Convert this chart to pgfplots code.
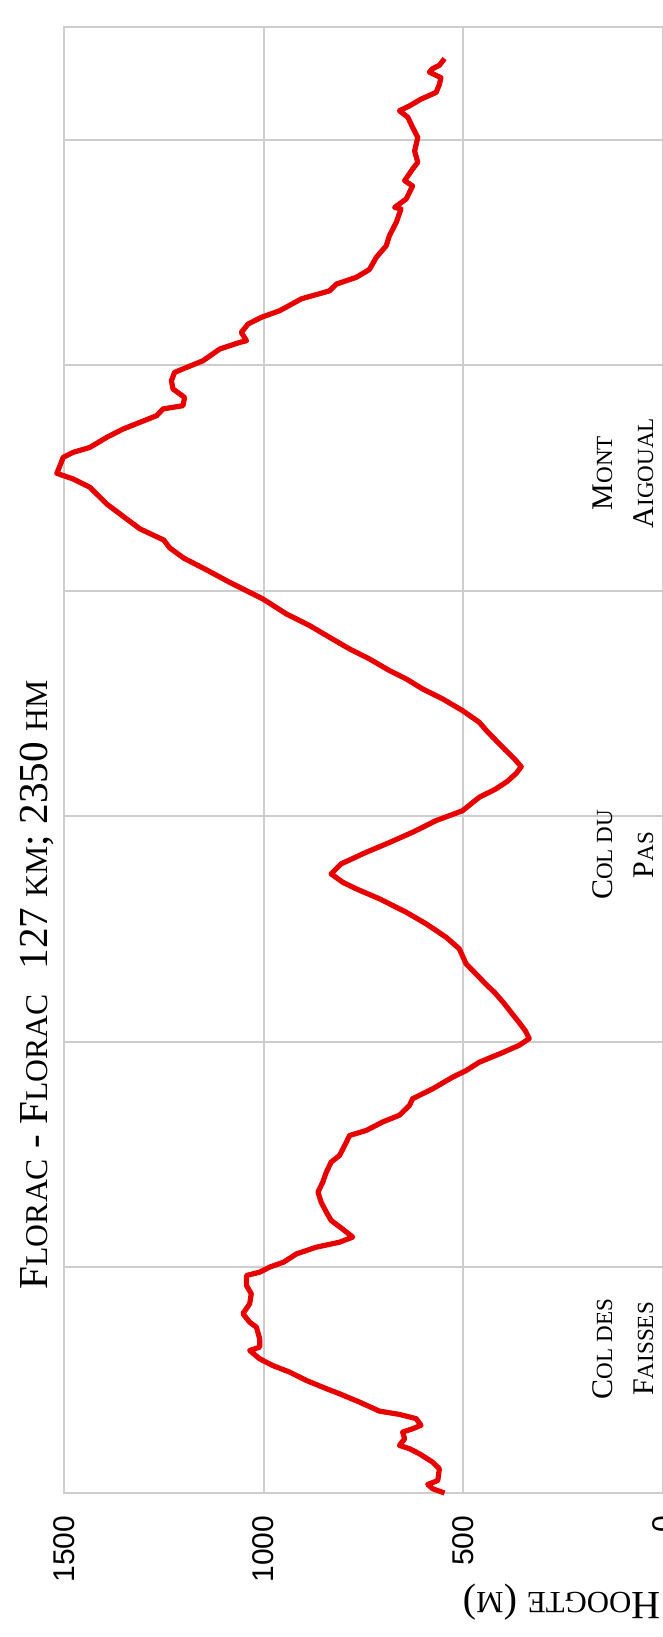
\documentclass[border=0pt]{standalone}
\usepackage{graphicx}
\usepackage{fontspec}
\setmainfont{Liberation Serif}
\newfontfamily\sansf{Liberation Sans}
\usepackage{pgfplots}
\pgfplotsset{compat=1.18}

\definecolor{gridgray}{RGB}{205,205,205}
\definecolor{profred}{RGB}{230,0,0}
% fake small caps
\newcommand\sm[1]{\scalebox{0.77}{#1}}

\pgfplotstableread{
d e
0 547
0.38 577
0.76 589
1.1 564
2.15 560
2.74 577
3.48 610
3.93 635
4.22 660
4.81 647
5.4 652
5.7 627
6.0 606
6.59 618
6.97 660
7.26 710
8.06 760
8.8 810
9.25 843
9.98 893
10.72 935
11.3 977
11.9 1010
12.64 1035
12.93 1010
13.68 1010
14.7 1018
15.15 1035
15.9 1052
16.78 1035
17.67 1031
18.4 1043
19.29 1043
19.58 1010
20.03 985
20.47 950
21.2 918
21.8 868
22.24 810
22.69 777
23.4 802
24.17 831
24.9 843
25.79 856
26.68 864
27.56 852
28.45 843
29.34 831
29.93 810
31.1 793
31.7 785
32.15 743
32.9 702
33.5 660
34.36 635
34.96 627
35.84 577
36.87 527
37.46 493
38.2 460
39.0 405
39.7 360
40.3 335
41.0 345
41.8 362
42.6 380
43.5 400
44.4 422
45.1 443
45.73 460
46.92 493
48.25 510
49.28 543
50.47 593
51.5 643
52.69 710
53.57 768
54.16 802
54.9 831
55.79 806
56.82 743
57.56 693
58.59 627
59.63 568
60.5 502
61.7 460
62.4 420
63.1 390
63.8 368
64.4 355
65.1 372
65.9 395
66.8 420
67.6 442
68.34 460
69.38 502
70.42 552
71.3 602
72.19 643
72.93 685
73.96 735
74.85 785
75.88 835
76.92 885
77.95 943
79.28 1002
80.17 1052
80.75 1085
81.8 1140
82.9 1200
83.8 1235
84.5 1250
85.0 1280
85.5 1310
86.82 1360
87.7 1393
89.18 1435
89.92 1477
90.42 1518
91.1 1510
91.84 1502
92.28 1477
92.72 1435
93.61 1393
94.35 1352
94.94 1310
95.53 1268
96.13 1252
96.42 1202
97.15 1198
97.9 1227
98.63 1231
99.37 1223
99.81 1193
100.4 1152
101.44 1110
102.03 1060
102.18 1043
102.92 1056
103.66 1039
104.25 1006
104.84 960
105.9 905
106.6 835
107.2 818
107.8 768
108.5 735
109.57 718
110.6 693
111.5 685
112.67 668
113.86 656
114.0 672
114.75 643
115.9 627
116.37 647
117.4 627
118 614
119 622
120.2 614
121.1 627
122 639
122.57 660
123 635
123.6 606
124.2 568
124.9 560
125.5 556
126 585
126.3 577
126.6 560
127.2 547
}\profile

\begin{document}
\begin{tikzpicture}
\begin{axis}[
  scale only axis,
  width=149.75pt, height=366.5pt,
  xmin=0, xmax=1500, x dir=reverse,
  ymin=0, ymax=130,
  xtick={0,500,1000,1500},
  xticklabels={0,500,1000,1500},
  ytick={0,20,...,120},
  yticklabels={},
  grid=major,
  major grid style={draw=gridgray, line width=0.5pt},
  axis line style={draw=gridgray, line width=0.5pt},
  major tick length=0pt,
  xticklabel style={rotate=90, anchor=east, inner sep=0pt,
    font=\sansf\fontsize{7.5}{9}\selectfont},
  xticklabel shift=5.5pt,
  clip=false,
]
\addplot[profred, line width=1.3pt, line join=round] table[x=e, y=d] {\profile};
\end{axis}

% title (reads bottom to top)
\node[rotate=90, anchor=base, inner sep=0pt, font=\fontsize{10.3}{12}\selectfont]
  at (-4.25pt,127pt) {F\sm{LORAC} - F\sm{LORAC}\hspace{0.6em}127 \sm{KM}; 2350 \sm{HM}};
% axis label (upside down)
\node[rotate=180, anchor=base, inner sep=0pt, font=\fontsize{10}{12}\selectfont]
  at (124.4pt,-25pt) {H\sm{OOGTE} (\sm{M})};
% climbs
\begin{scope}[every node/.style={rotate=90, anchor=base, inner sep=0pt,
    font=\fontsize{7.5}{9}\selectfont}]
\node at (137pt,36pt) {C\sm{OL DES}};
\node at (147.25pt,36pt) {F\sm{AISSES}};
\node at (137pt,159.5pt) {C\sm{OL DU}};
\node at (147.25pt,159.5pt) {P\sm{AS}};
\node at (137pt,255pt) {M\sm{ONT}};
\node at (147.25pt,255pt) {A\sm{IGOUAL}};
\end{scope}

\pgfresetboundingbox
\useasboundingbox (-16pt,-36pt) rectangle (149.75pt,373.25pt);
\end{tikzpicture}
\end{document}
